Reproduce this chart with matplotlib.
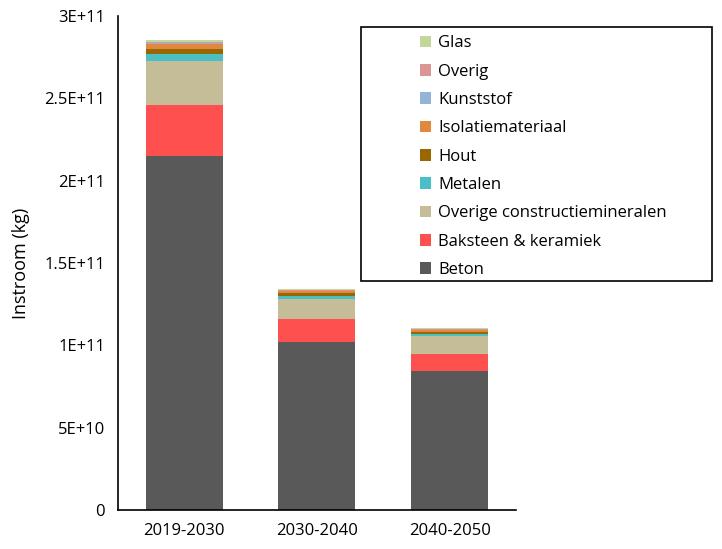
import matplotlib
matplotlib.use('Agg')
import matplotlib.pyplot as plt
import numpy as np
from matplotlib.patches import Rectangle
from matplotlib.ticker import FuncFormatter

plt.rcParams['font.family'] = ['Open Sans', 'DejaVu Sans']

periodes = ['2019-2030', '2030-2040', '2040-2050']
materialen = ['Beton', 'Baksteen & keramiek', 'Overige constructiemineralen',
              'Metalen', 'Hout', 'Isolatiemateriaal', 'Kunststof', 'Overig', 'Glas']
kleuren = ['#595959', '#FF5050', '#C4BD97', '#4BBFC6', '#996600',
           '#E0883F', '#95B3D7', '#D99694', '#C3D69B']

# waarden in kg
beton = [215e9, 102e9, 84.4e9]
baksteen = [31e9, 14e9, 10.3e9]
overige_constr = [26.5e9, 12e9, 11.1e9]
metalen = [4.3e9, 2e9, 1.2e9]
hout = [3e9, 1.5e9, 1e9]
isolatie = [3e9, 1.3e9, 1.2e9]
kunststof = [0.5e9, 0.3e9, 0.3e9]
overig = [1e9, 0.5e9, 0.4e9]
glas = [1e9, 0.5e9, 0.5e9]

reeksen = [beton, baksteen, overige_constr, metalen, hout, isolatie, kunststof, overig, glas]

fig = plt.figure(figsize=(7.22, 5.49), dpi=100)
ax = fig.add_axes([0.163, 0.071, 0.552, 0.9])

x = np.arange(len(periodes))
onder = np.zeros(len(periodes))
for naam, waarden, kleur in zip(materialen, reeksen, kleuren):
    ax.bar(x, waarden, 0.58, bottom=onder, color=kleur, label=naam)
    onder += np.array(waarden)

ax.set_xlim(-0.5, 2.5)
ax.set_ylim(0, 3e11)
ax.set_yticks(np.arange(0, 3.01e11, 0.5e11))

def fmt(v, pos):
    if v == 0:
        return '0'
    s = '%.1E' % v
    mant, exp = s.split('E')
    mant = mant.rstrip('0').rstrip('.')
    return '%sE+%d' % (mant, int(exp))

ax.yaxis.set_major_formatter(FuncFormatter(fmt))
ax.set_xticks(x)
ax.set_xticklabels(periodes)
ax.tick_params(length=0, labelsize=12, colors='#000000', pad=9)
ax.set_ylabel('Instroom (kg)', fontsize=13, labelpad=10)
for s in ['top', 'right']:
    ax.spines[s].set_visible(False)
for s in ['left', 'bottom']:
    ax.spines[s].set_linewidth(1.2)

h, l = ax.get_legend_handles_labels()
leg = fig.legend(h[::-1], l[::-1], loc='upper left', bbox_to_anchor=(0.572, 0.948),
                 frameon=False, fontsize=12, handlelength=0.7, handleheight=0.7,
                 handletextpad=0.4, labelspacing=0.74, borderaxespad=0)
fig.patches.append(Rectangle((361 / 722, 1 - 281 / 549), 351 / 722, 254 / 549,
                             transform=fig.transFigure, fill=False,
                             edgecolor='black', linewidth=1.2))

fig.savefig('out.png', dpi=100)
